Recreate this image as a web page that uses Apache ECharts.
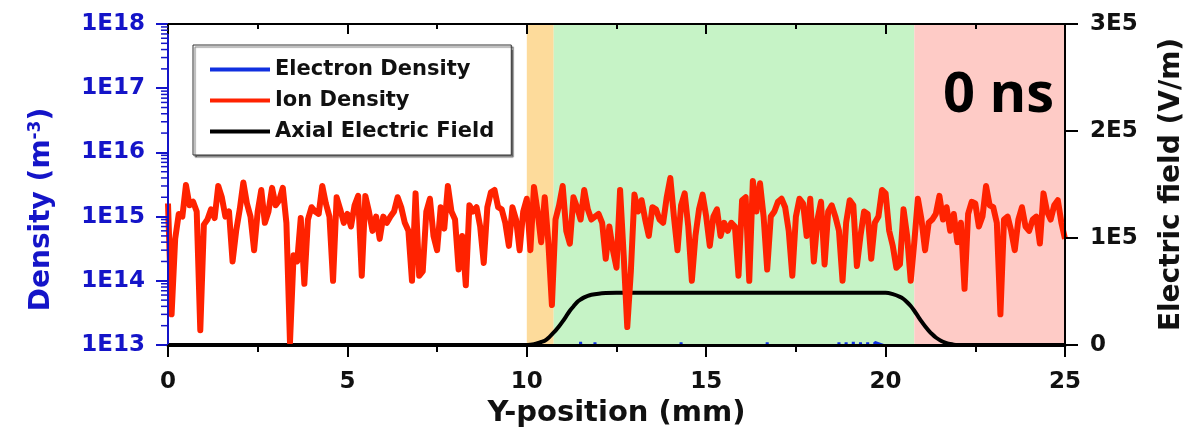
<!DOCTYPE html>
<html><head><meta charset="utf-8">
<script src="https://cdn.jsdelivr.net/npm/echarts@6/dist/echarts.min.js"></script>
<style>html,body{margin:0;padding:0;background:#fff}#c{width:1194px;height:438px}</style>
</head><body><div id="c"></div>
<script>
// ---------- data ----------
const positionStep = 0.1;          // mm between ion density samples (0 .. 25 mm)
const densityUnit = 1e15;          // ion density values below are in 1E15 m^-3
const ionDensity = [
  1.6, 0.03, 0.45, 1.1, 1.0, 3.1, 1.5, 1.7, 1.2, 0.017,
  0.75, 0.9, 1.3, 0.95, 3.0, 2.0, 1.0, 1.2, 0.2, 0.6,
  1.3, 3.4, 1.6, 1.0, 0.3, 1.2, 2.6, 0.8, 1.2, 2.8,
  1.5, 1.8, 2.8, 0.8, 0.011, 0.25, 0.2, 0.95, 0.09, 0.9,
  1.4, 1.2, 1.1, 3.0, 1.6, 1.0, 0.1, 2.0, 1.3, 0.8,
  1.1, 0.7, 1.5, 2.1, 0.12, 2.1, 1.2, 0.6, 1.0, 0.45,
  1.0, 0.8, 1.0, 1.2, 2.0, 1.4, 0.8, 0.6, 0.1, 2.3,
  0.12, 0.14, 1.2, 1.9, 0.5, 0.3, 1.4, 0.65, 3.0, 1.2,
  0.9, 0.15, 0.5, 0.085, 1.5, 1.2, 1.4, 0.7, 0.19, 1.4,
  2.4, 2.6, 1.4, 1.3, 0.8, 0.35, 1.4, 0.9, 0.3, 1.2,
  1.9, 0.3, 2.9, 1.2, 0.4, 2.0, 0.4, 0.042, 0.9, 1.5,
  3.0, 0.6, 0.38, 2.0, 1.4, 0.9, 2.6, 1.3, 0.9, 1.0,
  1.1, 0.8, 0.22, 0.7, 0.3, 0.16, 2.6, 0.25, 0.019, 0.14,
  2.2, 1.2, 1.8, 0.9, 0.5, 1.4, 1.3, 0.9, 0.8, 2.0,
  4.0, 1.0, 0.3, 1.5, 2.3, 0.7, 0.1, 0.5, 1.3, 2.2,
  1.0, 0.35, 1.0, 1.3, 0.5, 0.8, 0.6, 0.8, 0.7, 0.12,
  1.8, 2.0, 0.1, 3.6, 1.2, 3.3, 1.0, 0.15, 1.0, 1.2,
  1.7, 1.9, 1.4, 0.6, 0.12, 1.0, 1.9, 1.6, 0.5, 1.9,
  0.2, 0.9, 1.7, 0.18, 1.2, 1.5, 1.0, 0.6, 0.1, 0.8,
  1.8, 1.5, 0.17, 0.5, 1.2, 1.1, 0.22, 0.8, 1.0, 2.6,
  2.3, 0.6, 0.35, 0.16, 0.18, 1.3, 0.5, 0.1, 0.4, 1.9,
  0.9, 0.3, 0.8, 0.9, 1.1, 2.1, 0.9, 1.4, 0.6, 1.1,
  0.4, 0.8, 0.075, 1.1, 1.7, 1.6, 0.7, 1.0, 3.0, 1.5,
  1.4, 0.8, 0.03, 0.9, 1.0, 0.6, 0.3, 0.9, 1.4, 0.7,
  0.6, 0.9, 1.0, 0.38, 2.3, 1.2, 0.9, 1.5, 1.8, 0.8,
  0.45
];
// electron density: below 1E13 almost everywhere, a few specks at the axis
const electronPosition = [0, 11.4, 11.5, 11.6, 11.8, 11.9, 12.0, 14.2, 14.3, 14.4, 16.6, 16.7, 16.8,
  18.6, 18.7, 18.8, 18.9, 19.0, 19.1, 19.2, 19.3, 19.4, 19.5, 19.6, 19.7, 25];
const electronDensity = [1e12, 1e12, 1.12e13, 1e12, 1e12, 1.1e13, 1e12, 1e12, 1.1e13, 1e12, 1e12, 1.1e13, 1e12,
  1e12, 1.1e13, 1e12, 1.1e13, 1e12, 1.12e13, 1e12, 1.1e13, 1e12, 1.1e13, 1e12, 1.1e13, 1e12];
// axial electric field (V/m)
const fieldPosition = [0, 10.0, 10.1, 10.2, 10.3, 10.4, 10.5, 10.6, 10.7, 10.8, 10.9, 11.0, 11.1, 11.2, 11.3,
  11.4, 11.5, 11.6, 11.7, 11.8, 12.0, 12.2, 12.5, 13.0, 20.0, 20.2, 20.4, 20.5, 20.6, 20.7, 20.8, 20.9,
  21.0, 21.1, 21.2, 21.3, 21.4, 21.5, 21.6, 21.7, 21.8, 21.9, 22.0, 25];
const fieldStrength = [0, 0, 300, 800, 1600, 2800, 4000, 6500, 10000, 13500, 17500, 22000, 27000, 32000, 36000,
  40000, 42500, 44500, 46000, 47000, 48000, 48500, 48800, 48800, 48800, 47500, 45000, 43000, 40000, 36500, 32000, 27000,
  22000, 17500, 13500, 10000, 7000, 4800, 3000, 1800, 900, 300, 0, 0];
// background regions (mm)
const regionBounds = [[10, 10.75], [10.75, 20.8], [20.8, 25]];
const seriesNames = ['Electron Density', 'Ion Density', 'Axial Electric Field'];
const timeLabel = '0 ns';
const xRange = [0, 25];
const densityRange = [1e13, 1e18];
const fieldRange = [0, 3e5];

// ---------- styles ----------
const regionColors = ['#FDDB9B', '#C6F3C6', '#FECBC6'];
const BLUE = '#1414C8';
const FONT = "'DejaVu Sans', sans-serif";

const ionData = ionDensity.map((v, i) => [+(i * positionStep).toFixed(2), v * densityUnit]);
const electronData = electronPosition.map((x, i) => [x, electronDensity[i]]);
const fieldData = fieldPosition.map((x, i) => [x, fieldStrength[i]]);

// minor tick values for the log density axis (2..9 x each decade)
const minorTickValues = [];
for (let d = 13; d < 18; d++) for (let k = 2; k <= 9; k++) minorTickValues.push(k * Math.pow(10, d));

const chart = echarts.init(document.getElementById('c'));
chart.setOption({
  animation: false,
  backgroundColor: '#fff',
  grid: { left: 168, right: 127, top: 24, bottom: 93, show: false },
  legend: {
    data: seriesNames, orient: 'vertical', left: 193, top: 45,
    padding: [14, 17, 13, 17], itemGap: 10, icon: 'rect', itemWidth: 60, itemHeight: 4,
    textStyle: { fontFamily: FONT, fontWeight: 'bold', fontSize: 21, color: '#111' },
    borderColor: '#333', borderWidth: 1, backgroundColor: '#fff',
    shadowColor: 'rgba(0,0,0,0.55)', shadowOffsetX: 2, shadowOffsetY: 2, shadowBlur: 1,
    z: 20
  },
  xAxis: [{
    type: 'value', min: xRange[0], max: xRange[1], interval: 5, position: 'bottom',
    axisLine: { onZero: false, lineStyle: { color: '#000', width: 3 } },
    axisTick: { length: 12, lineStyle: { color: '#000', width: 2 } },
    minorTick: { show: true, splitNumber: 2, length: 7, lineStyle: { color: '#000', width: 2 } },
    axisLabel: { margin: 26, fontFamily: FONT, fontWeight: 'bold', fontSize: 23, color: '#111' },
    splitLine: { show: false },
    name: 'Y-position (mm)', nameLocation: 'middle', nameGap: 53,
    nameTextStyle: { fontFamily: FONT, fontWeight: 'bold', fontSize: 29, color: '#111' },
    z: 5
  }, {
    type: 'value', min: xRange[0], max: xRange[1], interval: 5, position: 'top',
    axisLine: { onZero: false, lineStyle: { color: '#000', width: 2 } },
    axisTick: { inside: true, length: 10, lineStyle: { color: '#000', width: 2 } },
    minorTick: { show: true, splitNumber: 2, length: 5, lineStyle: { color: '#000', width: 2 } },
    axisLabel: { show: false }, splitLine: { show: false }, z: 5
  }],
  yAxis: [{
    type: 'log', logBase: 10, min: densityRange[0], max: densityRange[1], position: 'left',
    axisLine: { onZero: false, lineStyle: { color: BLUE, width: 2 } },
    axisTick: { length: 12, lineStyle: { color: BLUE, width: 2 } },
    axisLabel: {
      margin: 23, fontFamily: FONT, fontWeight: 'bold', fontSize: 23, color: BLUE,
      formatter: v => '1E' + Math.round(Math.log10(v))
    },
    splitLine: { show: false },
    name: 'Density (m{sup|-3})', nameLocation: 'middle', nameGap: 112, nameRotate: 90,
    nameTextStyle: {
      fontFamily: FONT, fontWeight: 'bold', fontSize: 28, color: BLUE, padding: [0, 50, 0, 0],
      rich: { sup: { fontFamily: FONT, fontWeight: 'bold', fontSize: 17, color: BLUE, verticalAlign: 'top', padding: [0, 0, 12, 0] } }
    },
    z: 5
  }, {
    type: 'value', min: fieldRange[0], max: fieldRange[1], interval: 1e5, position: 'right',
    axisLine: { show: true, onZero: false, lineStyle: { color: '#000', width: 2 } },
    axisTick: { show: true, length: 13, lineStyle: { color: '#000', width: 2 } },
    axisLabel: {
      margin: 25, fontFamily: FONT, fontWeight: 'bold', fontSize: 23, color: '#111',
      formatter: v => v === 0 ? '0' : (v / 1e5) + 'E5'
    },
    splitLine: { show: false },
    name: 'Electric field (V/m)', nameLocation: 'middle', nameGap: 93, nameRotate: 90,
    nameTextStyle: { fontFamily: FONT, fontWeight: 'bold', fontSize: 28, color: '#111' },
    z: 5
  }],
  series: [{
    name: seriesNames[0], type: 'line', xAxisIndex: 0, yAxisIndex: 0, data: electronData,
    showSymbol: false, symbol: 'none', color: '#1030E0', lineStyle: { width: 3, color: '#1030E0' }, z: 3,
    markArea: {
      silent: true, z: 1,
      data: regionBounds.map((b, i) => [{ xAxis: b[0], itemStyle: { color: regionColors[i] } }, { xAxis: b[1] }])
    }
  }, {
    name: seriesNames[1], type: 'line', xAxisIndex: 0, yAxisIndex: 0, data: ionData,
    showSymbol: false, symbol: 'none', color: '#FF2200', lineStyle: { width: 6, color: '#FF2200', join: 'round' }, z: 4
  }, {
    name: seriesNames[2], type: 'line', xAxisIndex: 0, yAxisIndex: 1, data: fieldData, smooth: 0.3,
    showSymbol: false, symbol: 'none', color: '#000', lineStyle: { width: 4, color: '#000' }, z: 3
  }, {
    name: 'densityMinorTicks', type: 'custom', xAxisIndex: 0, yAxisIndex: 0, silent: true, clip: false, z: 6,
    data: minorTickValues.map(v => [xRange[0], v]),
    renderItem: (params, api) => {
      const p = api.coord([api.value(0), api.value(1)]);
      return { type: 'line', shape: { x1: p[0] - 7, y1: p[1], x2: p[0], y2: p[1] }, style: { stroke: BLUE, lineWidth: 1.5 } };
    }
  }],
  graphic: [{
    type: 'text', left: 943, top: 68, z: 20,
    style: { text: timeLabel, fontFamily: "'Open Sans', 'Noto Sans', sans-serif", fontWeight: 'bold', fontSize: 56, fill: '#000' }
  }]
});
</script></body></html>
